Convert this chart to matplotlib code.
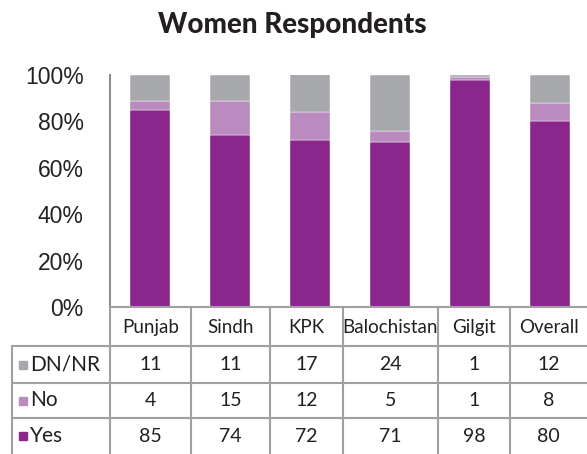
import matplotlib
matplotlib.use("Agg")
from matplotlib import pyplot as plt
from matplotlib.lines import Line2D
from matplotlib.patches import Rectangle
import numpy as np

regions = ['Punjab', 'Sindh', 'KPK', 'Balochistan', 'Gilgit', 'Overall']
yes = [85, 74, 72, 71, 98, 80]
no = [4, 15, 12, 5, 1, 8]
dnnr = [11, 11, 17, 24, 1, 12]
series_names = ['DN/NR', 'No', 'Yes']
colors = {'Yes': '#8b278c', 'No': '#b98bbf', 'DN/NR': '#a7a8ab'}

W, H = 587, 454
fig = plt.figure(figsize=(W / 100, H / 100), dpi=100)

def fx(px):
    return px / W

def fy(py):
    return 1 - py / H

# plot area (pixel layout)
ax_left, ax_top, ax_bottom, ax_right = 110, 75, 307, 590
ax = fig.add_axes([fx(ax_left), fy(ax_bottom), fx(ax_right - ax_left), (ax_bottom - ax_top) / H])

x = np.arange(len(regions))
bw = 0.51
ax.bar(x, yes, bw, color=colors['Yes'], edgecolor='white', linewidth=0.3)
ax.bar(x, no, bw, bottom=yes, color=colors['No'], edgecolor='white', linewidth=0.3)
ax.bar(x, dnnr, bw, bottom=np.array(yes) + np.array(no), color=colors['DN/NR'],
       edgecolor='white', linewidth=0.3)

ax.set_xlim(-0.5, len(regions) - 0.5)
ax.set_ylim(0, 100)
ax.set_yticks([0, 20, 40, 60, 80, 100])
ax.set_yticklabels(['0%', '20%', '40%', '60%', '80%', '100%'],
                   family='Liberation Sans', fontsize=16.5, color='#222222')
ax.tick_params(axis='y', length=0, pad=19)
ax.set_xticks([])
for s in ['top', 'right', 'bottom']:
    ax.spines[s].set_visible(False)
ax.spines['left'].set_color('#8c8c8c')
ax.spines['left'].set_linewidth(1.5)
ax.patch.set_alpha(0)

fig.text(fx(292), fy(25), 'Women Respondents', ha='center', va='center',
         fontsize=20, fontweight='black', family='Lato', color='#231f20')

# data table under the chart
grid = '#a0a0a0'
cols = [110, 191, 270, 343, 438, 510, 587]
rows = [307, 346, 383, 418, 454]
label_left = 12

def hline(y, x0, x1):
    fig.add_artist(Line2D([fx(x0), fx(x1)], [fy(y), fy(y)], color=grid, lw=1.5))

def vline(xp, y0, y1):
    fig.add_artist(Line2D([fx(xp), fx(xp)], [fy(y0), fy(y1)], color=grid, lw=1.5))

hline(rows[0], cols[0], cols[-1])
for r in rows[1:4]:
    hline(r, label_left, cols[-1])
for c in cols[:-1]:
    vline(c, rows[0], H)
vline(label_left, rows[1], H)

tfont = dict(family='Lato', fontsize=14, color='#231f20', ha='center', va='center')
hy = (rows[0] + rows[1]) / 2 + 1
for i, name in enumerate(regions):
    cx = (cols[i] + cols[i + 1]) / 2
    fig.text(fx(cx), fy(hy), name, family='Lato', fontsize=13.5, color='#231f20',
             ha='center', va='center')

table_vals = {'DN/NR': dnnr, 'No': no, 'Yes': yes}
for j, name in enumerate(series_names):
    cy = (rows[j + 1] + rows[j + 2]) / 2
    fig.add_artist(Rectangle((fx(19), fy(cy + 4)), fx(8), 8 / H, color=colors[name],
                             transform=fig.transFigure))
    fig.text(fx(30), fy(cy), name, family='Lato', fontsize=15, color='#231f20',
             ha='left', va='center')
    for i, v in enumerate(table_vals[name]):
        cx = (cols[i] + cols[i + 1]) / 2
        fig.text(fx(cx), fy(cy), str(v), **tfont)

fig.savefig('out.png', dpi=100)
